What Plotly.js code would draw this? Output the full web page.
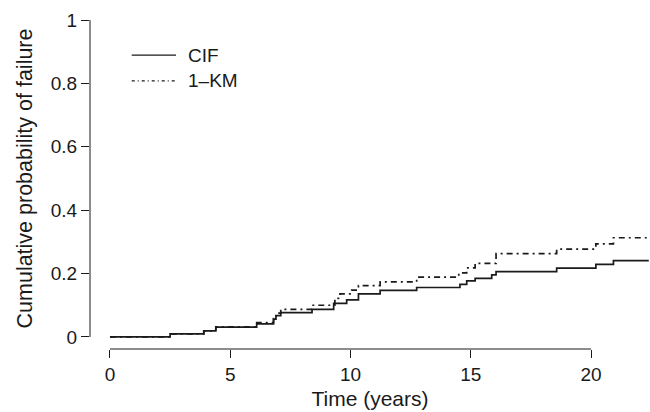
<!DOCTYPE html>
<html>
<head>
<meta charset="utf-8">
<script src="https://cdn.plot.ly/plotly-3.0.1.min.js"></script>
<style>
html,body{margin:0;padding:0;background:#fff;}
#chart{width:650px;height:412px;}
</style>
</head>
<body>
<div id="chart"></div>
<script>
// Step-function data (time in years)
const cifTime  = [0, 2.5, 3.9, 4.4, 6.1, 6.8, 6.9, 7.1, 8.4, 9.3, 9.84, 10.33, 11.23, 12.75, 14.55, 14.83, 15.18, 15.87, 16.05, 18.57, 20.2, 20.93, 22.4];
const cifValue = [0, 0.010, 0.019, 0.031, 0.041, 0.056, 0.067, 0.077, 0.087, 0.106, 0.117, 0.136, 0.147, 0.156, 0.166, 0.177, 0.185, 0.196, 0.206, 0.217, 0.229, 0.241, 0.241];

const kmTime  = [0, 2.5, 3.9, 4.4, 6.1, 6.8, 6.9, 7.1, 8.4, 9.35, 9.56, 10.05, 10.33, 11.23, 12.75, 14.5, 14.83, 15.18, 16.05, 18.57, 20.2, 20.93, 22.4];
const kmValue = [0, 0.010, 0.019, 0.032, 0.045, 0.058, 0.075, 0.087, 0.100, 0.122, 0.136, 0.148, 0.162, 0.174, 0.189, 0.202, 0.218, 0.232, 0.263, 0.277, 0.294, 0.313, 0.313];

const seriesNames = ['CIF', '1\u2013KM'];
const xTicks = [0, 5, 10, 15, 20];
const yTicks = [0, 0.2, 0.4, 0.6, 0.8, 1];
const yTickText = ['0', '0.2', '0.4', '0.6', '0.8', '1'];

const ink = '#1a1a1a';
const fontFam = '"Liberation Sans", Arial, Helvetica, sans-serif';
const kmDash = '6px,4px,2px,4px';

const traces = [
  {x: cifTime, y: cifValue, name: seriesNames[0], type: 'scatter', mode: 'lines',
   line: {shape: 'hv', color: ink, width: 1.7}, showlegend: false, hoverinfo: 'skip'},
  {x: kmTime, y: kmValue, name: seriesNames[1], type: 'scatter', mode: 'lines',
   line: {shape: 'hv', color: ink, width: 1.7, dash: kmDash}, showlegend: false, hoverinfo: 'skip'}
];

const layout = {
  width: 650, height: 412,
  margin: {l: 90, r: 0, t: 8, b: 63, pad: 0},
  paper_bgcolor: '#fff', plot_bgcolor: '#fff',
  font: {family: fontFam, color: ink, size: 19},
  xaxis: {
    range: [-0.83, 22.45], tickvals: xTicks, ticks: 'outside', ticklen: 8, tickwidth: 1, tickcolor: ink,
    showline: false, showgrid: false, zeroline: false, fixedrange: true,
    tickfont: {size: 19, family: fontFam, color: ink},
    title: {text: 'Time (years)', font: {size: 21, family: fontFam, color: ink}, standoff: 7}
  },
  yaxis: {
    range: [-0.038, 1.038], tickvals: yTicks, ticktext: yTickText, ticks: 'outside', ticklen: 8, tickwidth: 1, tickcolor: ink,
    showline: false, showgrid: false, zeroline: false, fixedrange: true,
    tickfont: {size: 19, family: fontFam, color: ink},
    title: {text: 'Cumulative probability of failure', font: {size: 21.5, family: fontFam, color: ink}, standoff: 12}
  },
  shapes: [
    {type: 'line', xref: 'x', yref: 'paper', x0: xTicks[0], x1: xTicks[xTicks.length - 1], y0: 0, y1: 0,
     line: {color: ink, width: 1}},
    {type: 'line', xref: 'paper', yref: 'y', x0: 0, x1: 0, y0: yTicks[0], y1: yTicks[yTicks.length - 1],
     line: {color: ink, width: 1}},
    // legend samples
    {type: 'line', xref: 'paper', yref: 'paper', x0: 0.0745, x1: 0.1536, y0: 0.862, y1: 0.862,
     line: {color: ink, width: 1.2}},
    {type: 'line', xref: 'paper', yref: 'paper', x0: 0.0745, x1: 0.1536, y0: 0.786, y1: 0.786,
     line: {color: ink, width: 1.2, dash: '3px,3px,1px,3px'}}
  ],
  annotations: [
    {xref: 'paper', yref: 'paper', x: 0.172, y: 0.862, xanchor: 'left', yanchor: 'middle',
     text: seriesNames[0], showarrow: false, font: {size: 19, family: fontFam, color: ink}},
    {xref: 'paper', yref: 'paper', x: 0.172, y: 0.786, xanchor: 'left', yanchor: 'middle',
     text: seriesNames[1], showarrow: false, font: {size: 19, family: fontFam, color: ink}}
  ]
};

Plotly.newPlot('chart', traces, layout, {displayModeBar: false, staticPlot: true});
</script>
</body>
</html>
